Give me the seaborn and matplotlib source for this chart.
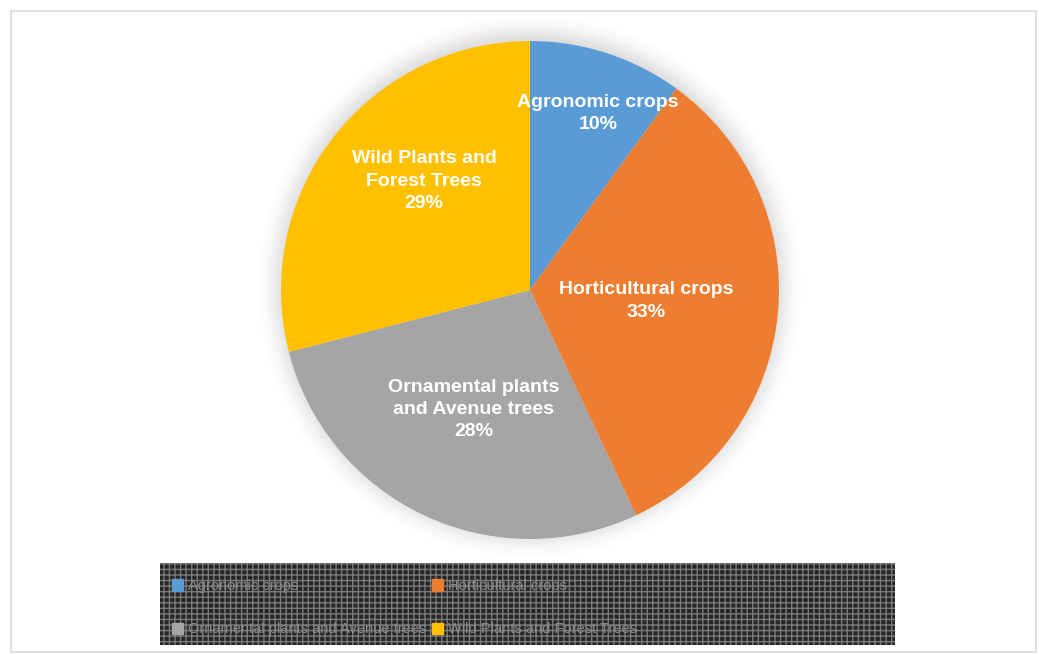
import numpy as np
import matplotlib.pyplot as plt
import matplotlib.patches as mpatches
from matplotlib.patches import Patch
import seaborn as sns

sns.set_theme(style="white")
plt.rcParams['font.family'] = ['Liberation Sans', 'DejaVu Sans']

categories = ["Agronomic crops", "Horticultural crops",
              "Ornamental plants and Avenue trees", "Wild Plants and Forest Trees"]
label_text = ["Agronomic crops", "Horticultural crops",
              "Ornamental plants\nand Avenue trees", "Wild Plants and\nForest Trees"]
shares = [10, 33, 28, 29]
colors = ["#5B9BD5", "#ED7D31", "#A5A5A5", "#FFC000"]
label_dist = [0.76, 0.47, 0.53, 0.61]
label_turn = [-3, 0, 0, -8]   # degrees off the wedge middle

W, H = 1039, 654
fig = plt.figure(figsize=(W / 100, H / 100), dpi=100)
fig.patch.set_facecolor("white")

# outer chart border
fig.add_artist(mpatches.Rectangle((11 / W, 2 / H), 1025 / W, 641 / H,
                                  transform=fig.transFigure, fill=False,
                                  edgecolor="#d9d9d9", linewidth=1.2))

# pie centre (530, 290) px, radius 249 px; axes spans +-1.12 radius
cx, cy, r = 530, 290, 249
lim = 1.12
half = r * lim
ax = fig.add_axes([(cx - half) / W, (H - cy - half) / H, 2 * half / W, 2 * half / H])

# soft shadow behind the pie
for rr, a in zip(np.linspace(1.09, 1.0, 8), np.linspace(0.012, 0.05, 8)):
    ax.add_patch(mpatches.Circle((0, 0.015), rr, color="gray", alpha=a, lw=0, zorder=0))

wedges, _ = ax.pie(shares, colors=colors, startangle=90, counterclock=False,
                   radius=1.0, wedgeprops=dict(linewidth=0))
for w in wedges:
    w.set_zorder(2)

for w, txt, val, d, t in zip(wedges, label_text, shares, label_dist, label_turn):
    ang = np.deg2rad((w.theta1 + w.theta2) / 2 + t)
    ax.text(d * np.cos(ang), d * np.sin(ang), f"{txt}\n{val}%",
            ha="center", va="center", color="white", fontsize=14,
            fontweight="bold", linespacing=1.4, zorder=3)

ax.set_xlim(-lim, lim)
ax.set_ylim(-lim, lim)
ax.set_aspect("equal")
ax.axis("off")

# legend background
fig.add_artist(mpatches.Rectangle((160 / W, 9 / H), 735 / W, 82 / H,
                                  transform=fig.transFigure, facecolor="#262626",
                                  edgecolor="#7a7a7a", hatch="+++", linewidth=0))

order = [0, 2, 1, 3]
handles = [Patch(facecolor=colors[i], edgecolor=colors[i]) for i in order]
labels = [categories[i] for i in order]
leg = fig.legend(handles, labels, ncol=2, loc="upper left",
                 bbox_to_anchor=(159 / W, 1 - 566 / H), frameon=False,
                 fontsize=10.5, labelcolor="#8c8c8c", handlelength=0.75,
                 handleheight=0.8, handletextpad=0.35, columnspacing=0.4,
                 labelspacing=2.0)

fig.savefig("out.png", dpi=100)
